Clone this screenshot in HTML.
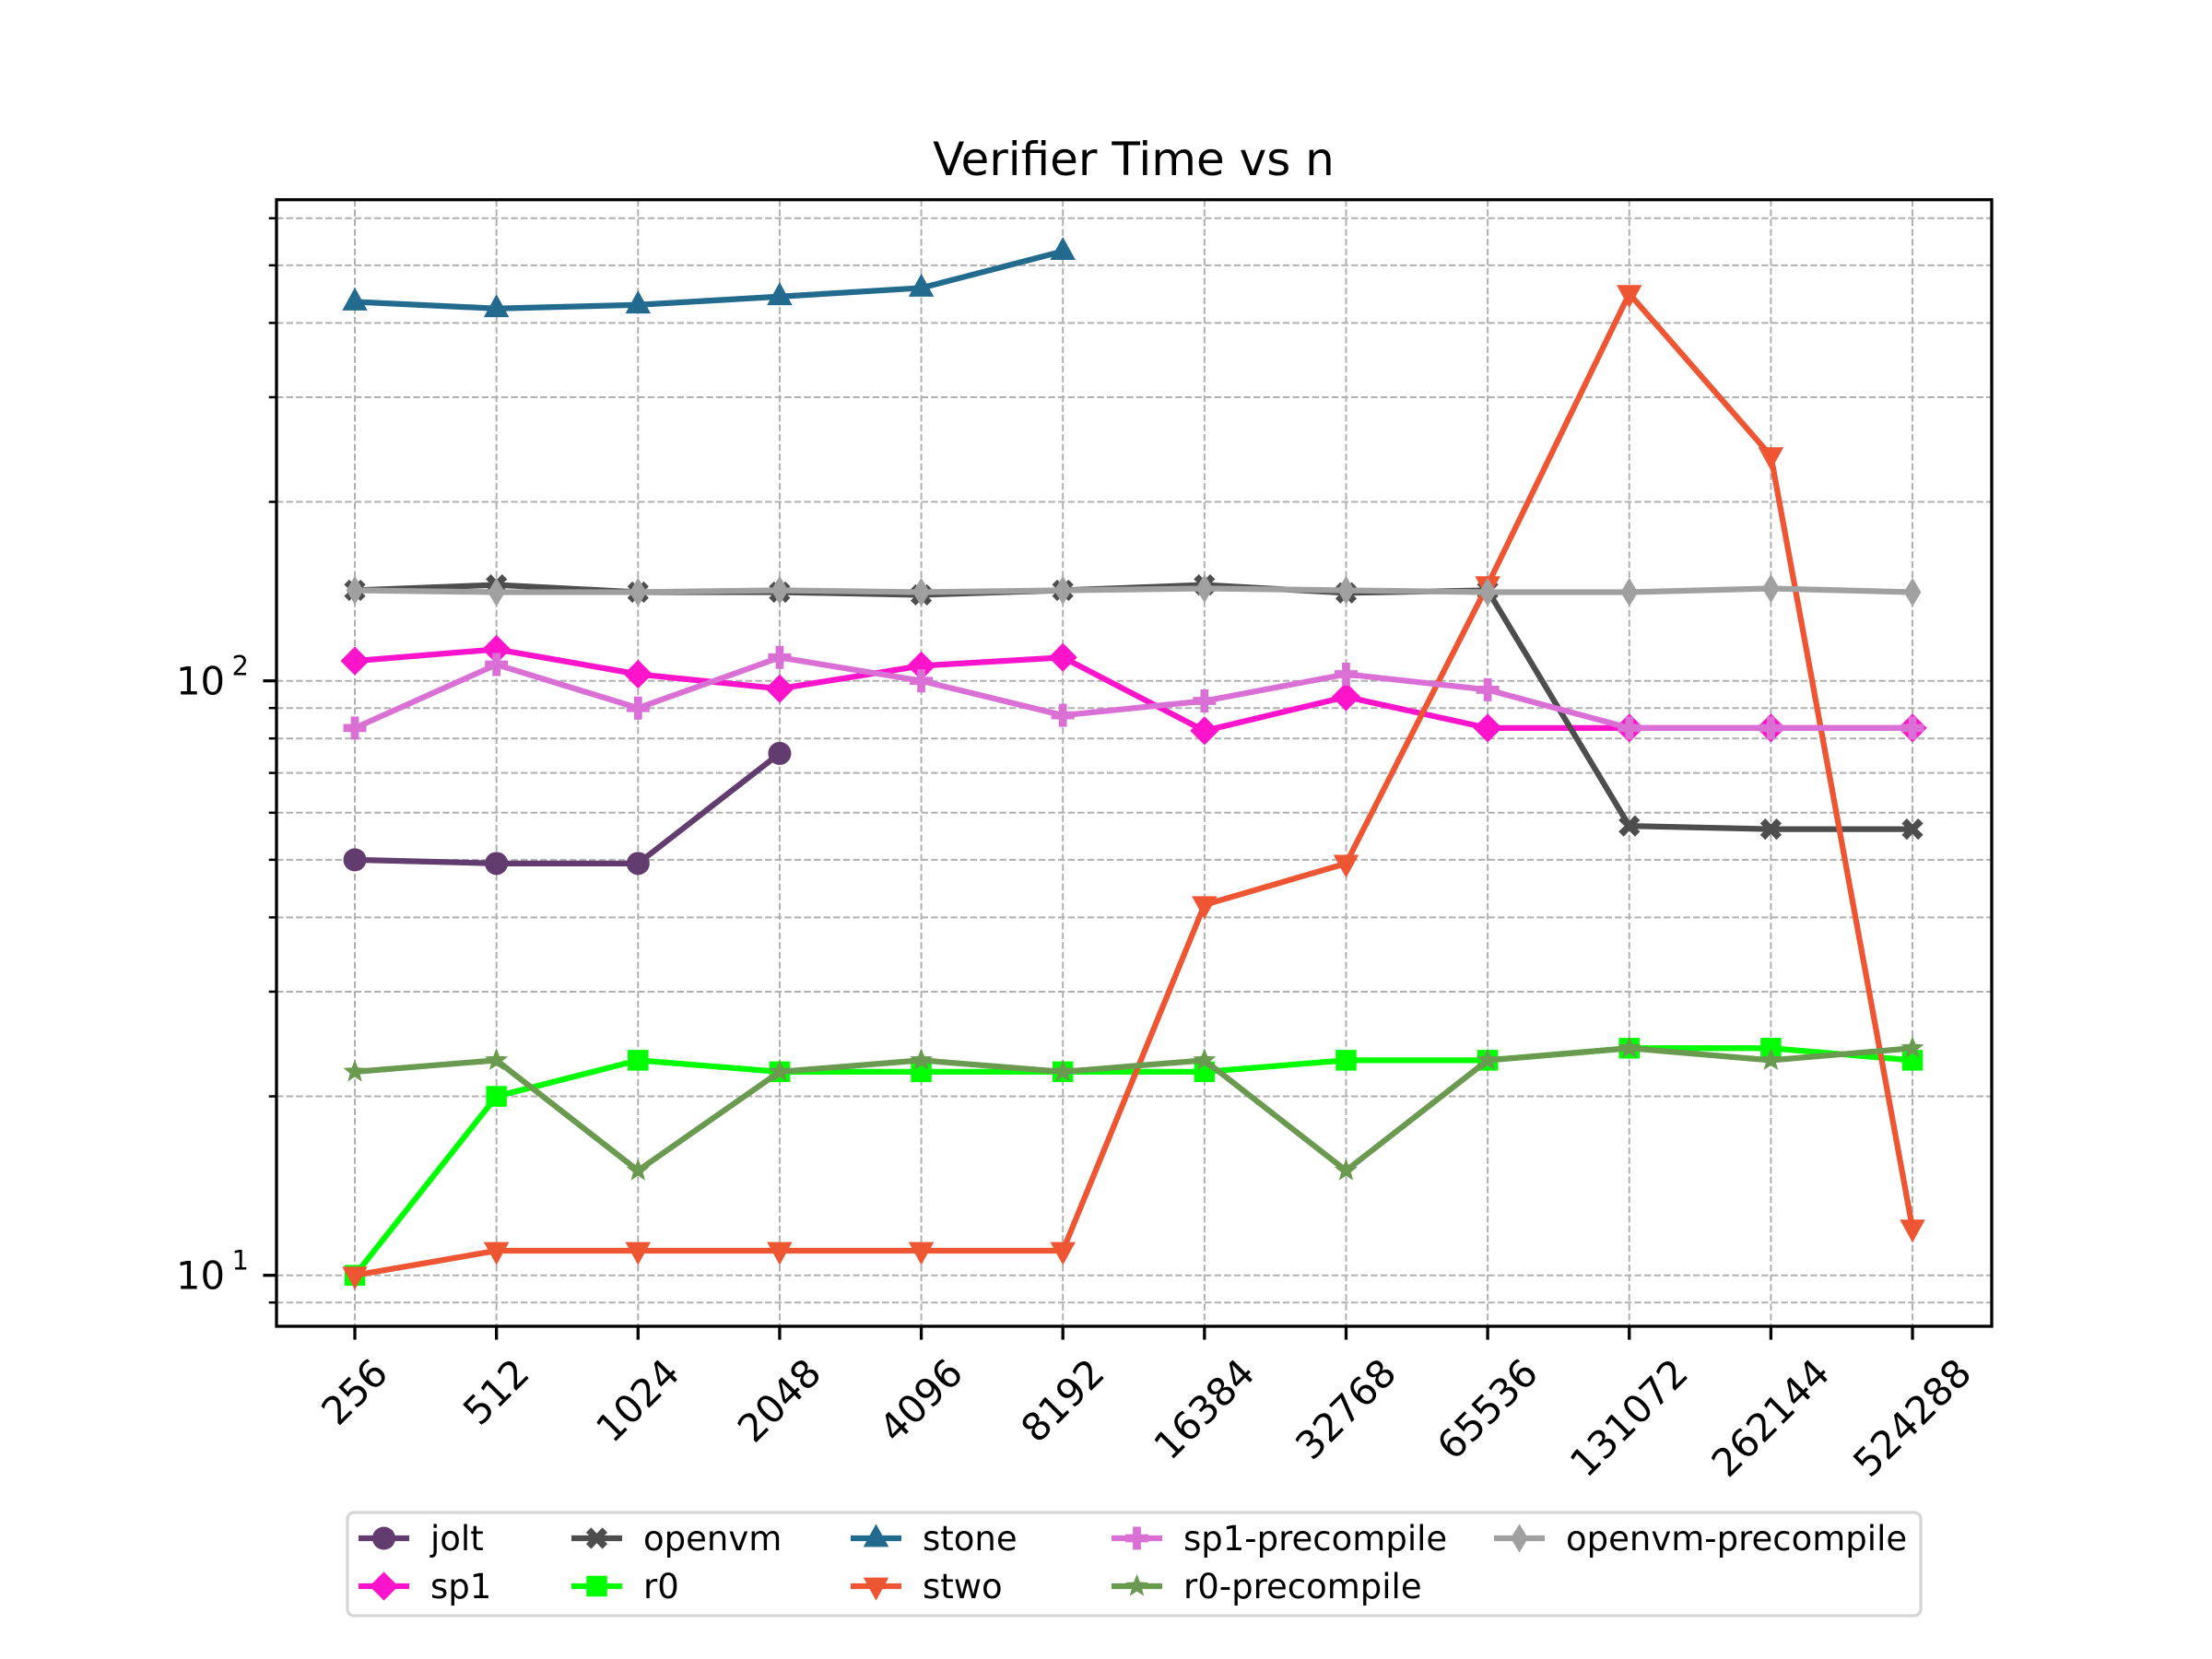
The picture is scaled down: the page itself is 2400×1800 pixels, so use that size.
<!DOCTYPE html>
<html><head><meta charset="utf-8"><style>
html,body{margin:0;padding:0;background:#fff;}
svg{display:block;font-family:"DejaVu Sans","Liberation Sans",sans-serif;}
</style></head><body>
<svg id="chart" width="2400" height="1800" viewBox="0 0 2400 1800" xmlns="http://www.w3.org/2000/svg">
<rect width="2400" height="1800" fill="#fff"/>
<text x="1230" y="190" font-size="50" text-anchor="middle">Verifier Time vs n</text>
<g id="grid"></g>
<g id="series"></g>
<rect x="300" y="216.7" width="1861" height="1222.3" fill="none" stroke="#000" stroke-width="3.3"/>
<g id="axes"></g>
<g id="legend"></g>
</svg>
<script>
const categories = ["256","512","1024","2048","4096","8192","16384","32768","65536","131072","262144","524288"];
const joltValues = [50,49.3,49.3,75.5];
const sp1Values = [108,113,102.6,97,106,109.5,82.4,94,83.3,83.3,83.3,83.3];
const openvmValues = [142,145,141,141,139.5,142,145,140.6,142,57,56.3,56.3];
const r0Values = [10,20,23,22,22,22,22,23,23,24.1,24.1,23];
const stoneValues = [434,423,429,443,458,528];
const stwoValues = [10,11,11,11,11,11,42,49.3,145,448,239,12];
const sp1PrecompileValues = [83.3,106.5,90,109.5,100,87.5,92.5,102.6,96.6,83.3,83.3,83.3];
const r0PrecompileValues = [22,23,15,22,23,22,23,15,23,24.1,23,24.1];
const openvmPrecompileValues = [142,141,141,142,141,142,143,142,141,141,143,141];
const seriesNames = ["jolt","sp1","openvm","r0","stone","stwo","sp1-precompile","r0-precompile","openvm-precompile"];
const yMajorTicks = [10,100];
const yMinorTicks = [9,20,30,40,50,60,70,80,90,200,300,400,500,600];

const NS="http://www.w3.org/2000/svg";
const X0=385, DX=153.64, Y10=1383.7, DEC=645, L=300, R=2161, T=216.7, B=1439;
function xs(i){return X0+i*DX;}
function ys(v){return Y10-(Math.log10(v)-1)*DEC;}
function mk(tag,attrs,parent){const e=document.createElementNS(NS,tag);for(const k in attrs)e.setAttribute(k,attrs[k]);parent.appendChild(e);return e;}

const grid=document.getElementById('grid'), axes=document.getElementById('axes');
categories.forEach((c,i)=>{
  const x=xs(i);
  const gl=mk('line',{x1:x,x2:x,y1:T,y2:B,stroke:'#b0b0b0','stroke-width':2,'stroke-dasharray':'7.4,3.2'},grid);
  
  
  const tk=mk('line',{x1:x,x2:x,y1:B,y2:B+14.6,stroke:'#000','stroke-width':3.3},axes);
  
  
  const w=c.length*0.636*41.7;
  const h=(w+41.7)*0.7071;
  const cy=B+14.6+14+h/2;
  const t=mk('text',{x:x,y:cy+14,'font-size':41.7,'text-anchor':'middle',transform:`rotate(-45 ${x} ${cy})`},axes);
  t.textContent=c;
  
  
});
yMinorTicks.concat(yMajorTicks).forEach(v=>{
  const y=ys(v); const major=yMajorTicks.includes(v);
  const gl=mk('line',{x1:L,x2:R,y1:y,y2:y,stroke:'#b0b0b0','stroke-width':2,'stroke-dasharray':'7.4,3.2'},grid);
  
  
  const tk=mk('line',{x1:L,x2:L-(major?14.6:8.3),y1:y,y2:y,stroke:'#000','stroke-width':major?3.3:2.5},axes);
  
  
  if(major){
    const t=mk('text',{x:L-56,y:y+15,'font-size':41.7,'text-anchor':'end'},axes);
    t.textContent='10';
    
    
    const s=mk('text',{x:L-30,y:y-6,'font-size':29,'text-anchor':'end'},axes);
    s.textContent=String(Math.round(Math.log10(v)));
    
    
  }
});

const styles={
 "jolt":{c:'#633c6f',m:'o',d:joltValues},
 "sp1":{c:'#ff14cc',m:'D',d:sp1Values},
 "openvm":{c:'#4d4d4d',m:'X',d:openvmValues},
 "r0":{c:'#00ff00',m:'s',d:r0Values},
 "stone":{c:'#236b8e',m:'^',d:stoneValues},
 "stwo":{c:'#ee5533',m:'v',d:stwoValues},
 "sp1-precompile":{c:'#da70d6',m:'P',d:sp1PrecompileValues},
 "r0-precompile":{c:'#6a9a50',m:'*',d:r0PrecompileValues},
 "openvm-precompile":{c:'#a0a0a0',m:'d',d:openvmPrecompileValues}
};
function marker(type,x,y,color,parent){
  const s=12.5; let e;
  if(type==='o') e=mk('circle',{cx:x,cy:y,r:s,fill:color},parent);
  else if(type==='s') e=mk('rect',{x:x-s*0.9,y:y-s*0.9,width:s*1.8,height:s*1.8,fill:color},parent);
  else if(type==='D') e=mk('polygon',{points:`${x},${y-s*1.25} ${x+s*1.25},${y} ${x},${y+s*1.25} ${x-s*1.25},${y}`,fill:color},parent);
  else if(type==='d') e=mk('polygon',{points:`${x},${y-s*1.25} ${x+s*0.75},${y} ${x},${y+s*1.25} ${x-s*0.75},${y}`,fill:color},parent);
  else if(type==='^') e=mk('polygon',{points:`${x},${y-s*1.25} ${x+s*1.1},${y+s*0.75} ${x-s*1.1},${y+s*0.75}`,fill:color},parent);
  else if(type==='v') e=mk('polygon',{points:`${x},${y+s*1.25} ${x+s*1.1},${y-s*0.75} ${x-s*1.1},${y-s*0.75}`,fill:color},parent);
  else if(type==='P'){const a=s*0.35,b=s;e=mk('polygon',{points:`${x-a},${y-b} ${x+a},${y-b} ${x+a},${y-a} ${x+b},${y-a} ${x+b},${y+a} ${x+a},${y+a} ${x+a},${y+b} ${x-a},${y+b} ${x-a},${y+a} ${x-b},${y+a} ${x-b},${y-a} ${x-a},${y-a}`,fill:color},parent);}
  else if(type==='X'){const p=[];for(let k=0;k<4;k++){const ang=Math.PI/4+k*Math.PI/2;const r1=s*1.05,r2=s*0.42;p.push([x+r1*Math.cos(ang-0.3),y+r1*Math.sin(ang-0.3)]);p.push([x+r1*Math.cos(ang+0.3),y+r1*Math.sin(ang+0.3)]);const ang2=ang+Math.PI/4;p.push([x+r2*Math.cos(ang2),y+r2*Math.sin(ang2)]);}e=mk('polygon',{points:p.map(q=>q.join(',')).join(' '),fill:color},parent);}
  else if(type==='*'){const p=[];for(let k=0;k<10;k++){const r=k%2?s*0.45:s*1.05;const ang=-Math.PI/2+k*Math.PI/5;p.push((x+r*Math.cos(ang))+','+(y+r*Math.sin(ang)));}e=mk('polygon',{points:p.join(' '),fill:color},parent);}
  return e;
}
const sg=document.getElementById('series');
seriesNames.forEach(n=>{
  const st=styles[n];
  const g=mk('g',{},sg);
  
  
  const pts=st.d.map((v,i)=>xs(i)+','+ys(v)).join(' ');
  const pl=mk('polyline',{points:pts,fill:'none',stroke:st.c,'stroke-width':6.25,'stroke-linejoin':'round'},g);
  
  
  st.d.forEach((v,i)=>{
    const m=marker(st.m,xs(i),ys(v),st.c,g);
    
    
  });
});
// legend
const lg=document.getElementById('legend');
const box=mk('rect',{x:377,y:1641,width:1707,height:112,rx:7,fill:'#fff',stroke:'#d6d6d6','stroke-width':3.3},lg);


const colX=[389,620,923,1206,1621];
seriesNames.forEach((n,i)=>{
  const col=Math.floor(i/2), row=i%2;
  const x=colX[col], y=row?1721:1669;
  const st=styles[n];
  const g=mk('g',{},lg);
  
  
  mk('line',{x1:x,x2:x+55,y1:y,y2:y,stroke:st.c,'stroke-width':6.25},g);
  marker(st.m,x+27.5,y,st.c,g);
  const t=mk('text',{x:x+78,y:y+13,'font-size':37},g);
  t.textContent=n;
});
</script>
</body></html>
